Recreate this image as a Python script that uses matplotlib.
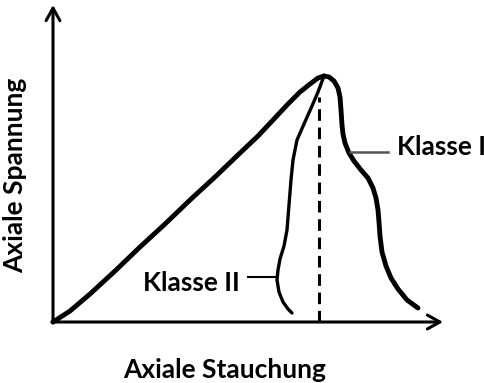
import matplotlib
matplotlib.use("Agg")
import matplotlib.pyplot as plt

plt.rcParams["font.family"] = ["Lato", "DejaVu Sans"]

# schematic stress-strain curve (arbitrary units)
pre_x = [0, 17, 37, 62, 87, 112, 137, 162, 187, 205, 220, 235, 247, 257, 265, 271]
pre_y = [0, 11, 28, 51, 75, 98, 122, 145, 169, 186, 202, 218, 230, 238, 244, 246]

k1_x = [271, 276, 281, 285, 287, 288, 289, 290, 292, 296, 301, 308, 315, 320, 323,
        325, 326, 327, 329, 333, 338, 345, 354, 365]
k1_y = [246, 245, 241, 234, 225, 212, 197, 188, 179, 169, 161, 152, 144, 134, 124,
        112, 100, 86, 70, 56, 44, 33, 22, 14]

k2_x = [271, 265, 259, 251, 244, 240, 238, 236, 234, 231, 227, 225, 224, 226, 230, 235, 239]
k2_y = [246, 230, 216, 198, 182, 162, 142, 117, 92, 76, 63, 52, 42, 30, 20, 13, 9]

peak_x = 266
peak_line_top = 225
x_max = 390
y_max = 317

labels = ["Klasse I", "Klasse II"]
xlabel = "Axiale Stauchung"
ylabel = "Axiale Spannung"

fig = plt.figure(figsize=(4.85, 3.83), dpi=100)
ax = fig.add_axes([0, 0, 1, 1])
ax.set_xlim(-53, 432)
ax.set_ylim(-61, 322)
ax.axis("off")

# axes with open arrow heads
arrow = dict(arrowstyle="->,head_length=0.9,head_width=0.5", lw=2.2, color="black",
             shrinkA=0, shrinkB=0)
ax.annotate("", xy=(0, y_max), xytext=(0, -1), arrowprops=arrow)
ax.annotate("", xy=(x_max, 0), xytext=(-1, 0), arrowprops=arrow)

ax.plot(pre_x, pre_y, color="black", lw=3.5, solid_capstyle="round", solid_joinstyle="round")
ax.plot(k1_x, k1_y, color="black", lw=3.5, solid_capstyle="round", solid_joinstyle="round")
ax.plot(k2_x, k2_y, color="black", lw=2.4, solid_capstyle="round", solid_joinstyle="round")
ax.plot([peak_x, peak_x], [0, peak_line_top], color="black", lw=2.2, dashes=(3.8, 2.2))

# labels with leader lines
ax.plot([297, 335], [170, 170], color="#555555", lw=1.8)
ax.plot([195, 224], [45, 45], color="black", lw=1.5)
ax.text(344, 175, labels[0], fontsize=19, fontweight="bold", va="center", ha="left")
ax.text(90, 39, labels[1], fontsize=19, fontweight="bold", va="center", ha="left")

ax.text(172, -48, xlabel, fontsize=19, fontweight="bold", ha="center", va="center")
ax.text(-38, 147, ylabel, fontsize=19, fontweight="bold", ha="center", va="center",
        rotation=90)

fig.savefig("out.png", dpi=100)
